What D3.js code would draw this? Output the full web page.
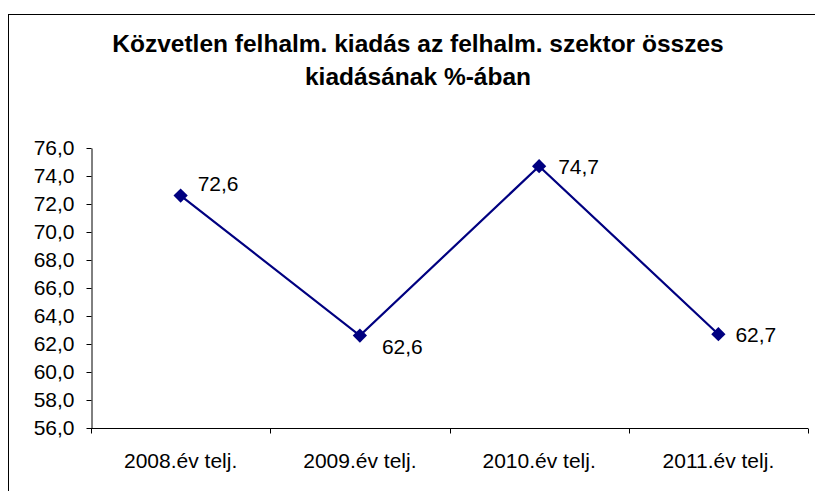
<!DOCTYPE html>
<html>
<head>
<meta charset="utf-8">
<script src="https://cdn.jsdelivr.net/npm/d3@7"></script>
<style>
  body { margin: 0; background: #fff; }
  text { font-family: "Liberation Sans", Arial, sans-serif; fill: #000; }
</style>
</head>
<body>
<svg id="SVG_CONTAINER" width="815" height="491"></svg>
<script>
const categories = ["2008.év telj.", "2009.év telj.", "2010.év telj.", "2011.év telj."];
const values = [72.6, 62.6, 74.7, 62.7];
const valueLabels = ["72,6", "62,6", "74,7", "62,7"];
const yTicks = [56, 58, 60, 62, 64, 66, 68, 70, 72, 74, 76];
const titleLines = ["Közvetlen felhalm. kiadás az felhalm. szektor összes", "kiadásának %-ában"];

// label placement relative to the point (right / above / below)
const labelDx = [17, 22, 19, 17];
const labelDy = [-12, 11, 0, 0];

const MARGIN = { LEFT: 91, RIGHT: 7, TOP: 148, BOTTOM: 63 };
const width = 815, height = 491;
const FONT = "21px";

let svg = d3.select("#SVG_CONTAINER");

// outer frame (runs off the bottom/right edge)
svg.append("rect")
    .attr("x", 8.5).attr("y", 14.5)
    .attr("width", 820).attr("height", 500)
    .attr("fill", "none")
    .attr("stroke", "#000")
    .attr("stroke-width", 1);

// title
svg.append("text")
    .attr("x", 418).attr("y", 52)
    .attr("text-anchor", "middle")
    .style("font-size", "24.5px")
    .style("font-weight", "bold")
    .selectAll("tspan")
    .data(titleLines)
    .enter()
    .append("tspan")
        .attr("x", 418)
        .attr("dy", (d, i) => i === 0 ? 0 : 33)
        .text(d => d);

let xScale = d3.scaleBand()
    .domain(categories)
    .range([MARGIN.LEFT, width - MARGIN.RIGHT]);

let yScale = d3.scaleLinear()
    .domain([56, 76])
    .range([height - MARGIN.BOTTOM, MARGIN.TOP]);

let chart = svg.append("g");

// y axis
let yAxis = chart.append("g")
    .attr("transform", `translate(${MARGIN.LEFT + 0.5}, 0)`)
    .call(d3.axisLeft(yScale).tickValues(yTicks).tickSize(5).tickSizeOuter(0)
        .tickFormat(d => d3.format(".1f")(d).replace(".", ",")));
yAxis.selectAll("text").style("font-size", FONT).attr("x", -17);
yAxis.select(".domain").attr("stroke", "#000");

// x axis: ticks between categories
let xAxis = chart.append("g")
    .attr("transform", `translate(0, ${height - MARGIN.BOTTOM + 0.5})`);
xAxis.append("line")
    .attr("x1", MARGIN.LEFT).attr("x2", width - MARGIN.RIGHT)
    .attr("stroke", "#000");
let bounds = categories.map(c => xScale(c)).concat([xScale(categories[3]) + xScale.bandwidth()]);
xAxis.selectAll(".tick")
    .data(bounds)
    .enter()
    .append("line")
        .attr("x1", d => Math.round(d) + 0.5).attr("x2", d => Math.round(d) + 0.5)
        .attr("y1", 0).attr("y2", 5)
        .attr("stroke", "#000");
xAxis.selectAll(".lbl")
    .data(categories)
    .enter()
    .append("text")
        .attr("x", d => xScale(d) + xScale.bandwidth() / 2)
        .attr("y", 39)
        .attr("text-anchor", "middle")
        .style("font-size", FONT)
        .text(d => d);

let cx = (d, i) => xScale(categories[i]) + xScale.bandwidth() / 2;

// line
chart.append("path")
    .datum(values)
    .attr("fill", "none")
    .attr("stroke", "#000080")
    .attr("stroke-width", 2.2)
    .attr("d", d3.line().x(cx).y(d => yScale(d)));

// diamond markers
chart.selectAll(".marker")
    .data(values)
    .enter()
    .append("path")
        .attr("d", d3.symbol().type(d3.symbolDiamond2).size(130))
        .attr("transform", (d, i) => `translate(${cx(d, i)}, ${yScale(d)})`)
        .attr("fill", "#000080");

// value labels
chart.selectAll(".vlabel")
    .data(values)
    .enter()
    .append("text")
        .attr("x", (d, i) => cx(d, i) + labelDx[i])
        .attr("y", (d, i) => yScale(d) + labelDy[i])
        .attr("dy", "0.35em")
        .style("font-size", FONT)
        .text((d, i) => valueLabels[i]);
</script>
</body>
</html>
